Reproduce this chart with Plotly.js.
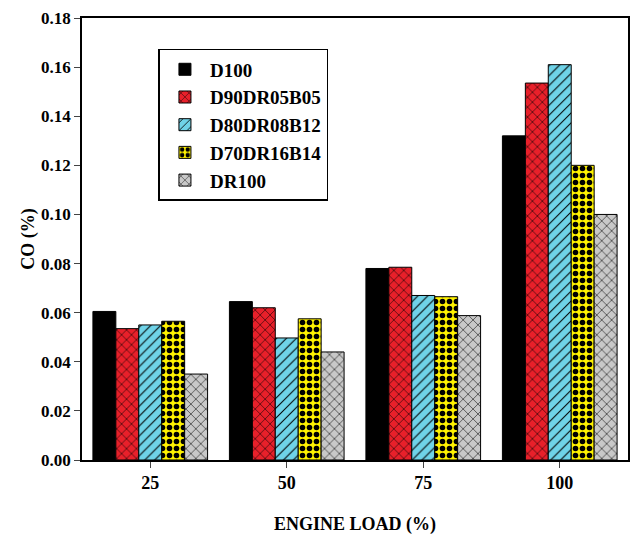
<!DOCTYPE html>
<html><head><meta charset="utf-8">
<script src="https://cdn.plot.ly/plotly-3.0.1.min.js"></script>
<style>body{margin:0}</style></head>
<body><div id="graph" style="width:640px;height:537px"></div>
<script>
// CO emission vs engine load
const loads = ['25', '50', '75', '100'];
const names = ['D100', 'D90DR05B05', 'D80DR08B12', 'D70DR16B14', 'DR100'];
const d100 = [0.0605, 0.0645, 0.078, 0.132];
const d90 = [0.0535, 0.062, 0.0785, 0.1535];
const d80 = [0.055, 0.0497, 0.067, 0.161];
const d70 = [0.0565, 0.0575, 0.0665, 0.120];
const dr100 = [0.035, 0.044, 0.0588, 0.100];

const series = [d100, d90, d80, d70, dr100];
const fills = ['#000000', '#e8202a', '#6fd3e8', '#fff200', '#c8c8c8'];
const shapes = ['', 'x', '/', '.', 'x'];

var data = series.map(function(vals, i) {
    return {
        x: loads,
        y: vals,
        name: names[i],
        type: 'bar',
        marker: {
            color: fills[i],
            line: {color: '#000', width: 1},
            pattern: {shape: shapes[i], fgcolor: '#000', bgcolor: fills[i], size: 7, solidity: i == 3 ? 0.5 : 0.15}
        }
    };
});

var layout = {
    width: 640, height: 537,
    margin: {l: 82, r: 12, t: 18, b: 77},
    paper_bgcolor: '#fff',
    plot_bgcolor: '#fff',
    font: {family: 'Liberation Serif, serif', size: 17, color: '#000'},
    bargap: 0.16,
    bargroupgap: 0,
    showlegend: true,
    legend: {
        x: 0.14, y: 0.93, xanchor: 'left', yanchor: 'top',
        bordercolor: '#000', borderwidth: 1.5,
        font: {family: 'Liberation Serif, serif', size: 19, color: '#000', weight: 'bold'},
        itemwidth: 40,
        tracegroupgap: 0
    },
    xaxis: {
        title: {text: '<b>ENGINE LOAD (%)</b>', font: {family: 'Liberation Serif, serif', size: 18}, standoff: 25},
        tickfont: {family: 'Liberation Serif, serif', size: 18, weight: 'bold'},
        showline: true, linecolor: '#000', linewidth: 1.5, mirror: true,
        ticks: 'outside', ticklen: 6
    },
    yaxis: {
        title: {text: '<b>CO (%)</b>', font: {family: 'Liberation Serif, serif', size: 18}},
        range: [0, 0.18], dtick: 0.02, tickformat: '.2f',
        tickfont: {family: 'Liberation Serif, serif', size: 17, weight: 'bold'},
        showgrid: false, zeroline: false,
        showline: true, linecolor: '#000', linewidth: 1.5, mirror: true,
        ticks: 'outside', ticklen: 6
    }
};

Plotly.newPlot('graph', data, layout, {displayModeBar: false});
</script></body></html>
